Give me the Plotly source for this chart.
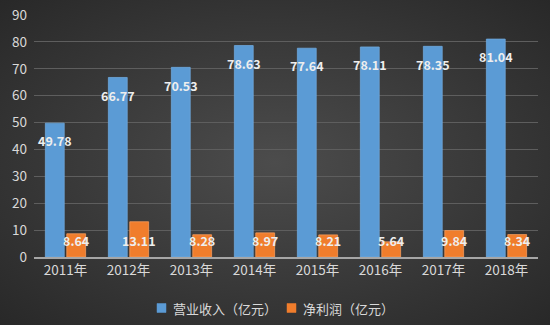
import plotly.graph_objects as go
import base64

categories = ["2011年", "2012年", "2013年", "2014年", "2015年", "2016年", "2017年", "2018年"]
revenue = [49.78, 66.77, 70.53, 78.63, 77.64, 78.11, 78.35, 81.04]
profit = [8.64, 13.11, 8.28, 8.97, 8.21, 5.64, 9.84, 8.34]
y_ticks = [0, 10, 20, 30, 40, 50, 60, 70, 80, 90]
series_names = ["营业收入（亿元）", "净利润（亿元）"]
series_colors = ["#5b9bd5", "#f07d2c"]

FONT = "Noto Sans CJK SC"

fig = go.Figure()
fig.add_trace(go.Bar(
    x=categories, y=revenue, name=series_names[0],
    marker=dict(color=series_colors[0], line=dict(color="#6fa8dc", width=0.8)),
))
fig.add_trace(go.Bar(
    x=categories, y=profit, name=series_names[1],
    marker=dict(color=series_colors[1], line=dict(color="#f59a5a", width=0.8)),
))

annotations = []
for i, c in enumerate(categories):
    annotations.append(dict(x=i - 0.17, y=revenue[i] - 6.6, xref="x", yref="y",
                            text=f"<b>{revenue[i]:.2f}</b>", showarrow=False,
                            font=dict(family=FONT, size=12.5, color="#eeeeee")))
    annotations.append(dict(x=i + 0.17, y=6.0, xref="x", yref="y",
                            text=f"<b>{profit[i]:.2f}</b>", showarrow=False,
                            font=dict(family=FONT, size=12.5, color="#eeeeee")))

PW, PH = 504, 242
L, T = 34, 15
BOT = T + PH


def px(xp):
    return (xp - L) / PW


def py(yp):
    return (BOT - yp) / PH


# manual legend
shapes = []
legend_items = [(157, 171), (287, 301)]
for (sx, tx), name, col in zip(legend_items, series_names, series_colors):
    shapes.append(dict(type="rect", xref="paper", yref="paper",
                       x0=px(sx), x1=px(sx + 9), y0=py(312.5), y1=py(303.5),
                       fillcolor=col, line=dict(color=col, width=0.5)))
    annotations.append(dict(x=px(tx), y=py(308), xref="paper", yref="paper",
                            xanchor="left", yanchor="middle", showarrow=False,
                            text=name, font=dict(family=FONT, size=13, color="#d9d9d9")))

svg = ('<svg xmlns="http://www.w3.org/2000/svg" width="550" height="325">'
       '<defs><radialGradient id="g" cx="50%" cy="50%" r="75%">'
       '<stop offset="0%" stop-color="#4c4c4c"/>'
       '<stop offset="100%" stop-color="#262626"/>'
       '</radialGradient></defs>'
       '<rect width="550" height="325" fill="url(#g)"/></svg>')
src = "data:image/svg+xml;base64," + base64.b64encode(svg.encode()).decode()

fig.update_layout(
    width=550, height=325,
    margin=dict(l=L, r=12, t=T, b=68, autoexpand=False),
    paper_bgcolor="#3a3a3a", plot_bgcolor="rgba(0,0,0,0)",
    barmode="group", bargap=0.32, bargroupgap=0.12,
    font=dict(family=FONT, size=12, color="#d9d9d9"),
    showlegend=False,
    annotations=annotations,
    shapes=shapes,
    images=[dict(source=src, xref="paper", yref="paper", x=-L/PW, y=1 + T/PH,
                 sizex=550/PW, sizey=325/PH, xanchor="left", yanchor="top",
                 sizing="stretch", layer="below")],
)
fig.update_xaxes(showgrid=False, showline=True, linecolor="#a6a6a6", linewidth=2,
                 ticks="", automargin=False, tickfont=dict(size=13.5, color="#d9d9d9"))
fig.update_yaxes(range=[0, 90], tickvals=y_ticks, showgrid=True, gridcolor="#5e5e5e",
                 gridwidth=1, zeroline=False, showline=False, ticks="", automargin=False,
                 tickfont=dict(size=13.5, color="#d9d9d9"), ticklabelstandoff=6)

fig.write_html("out.html")
